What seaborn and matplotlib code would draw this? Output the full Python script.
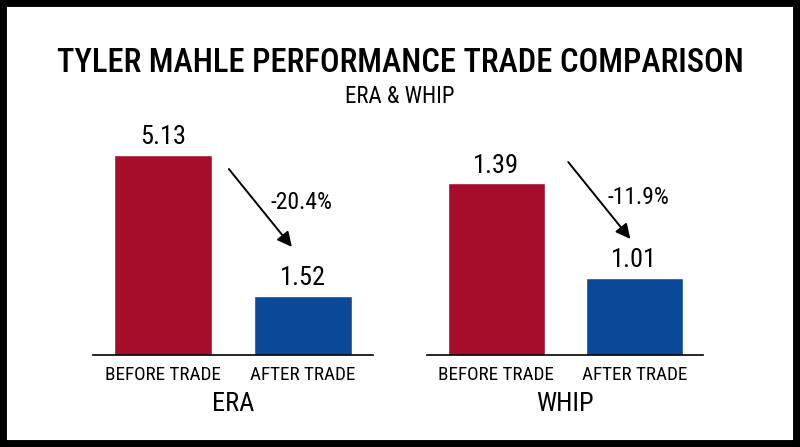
import pandas as pd
import matplotlib.pyplot as plt
import seaborn as sns
from matplotlib import font_manager
from matplotlib.patches import Rectangle

# Chart data
periods = ['BEFORE TRADE', 'AFTER TRADE']
era_values = [5.13, 1.52]
whip_values = [1.39, 1.01]
era_change = '-20.4%'
whip_change = '-11.9%'
bar_colors = ['#A50D2A', '#0A4898']

# Pick a condensed sans family if one is installed
available = {f.name for f in font_manager.fontManager.ttflist}
condensed = None
for name in ['Roboto Condensed', 'Archivo Narrow', 'PT Sans Narrow', 'Liberation Sans Narrow',
             'IBM Plex Sans Condensed', 'Open Sans Condensed', 'Encode Sans Condensed',
             'Fira Sans Condensed', 'Barlow Semi Condensed', 'Open Sans']:
    if name in available:
        condensed = name
        break

sns.set_theme(style='white')
plt.rcParams['font.family'] = [condensed, 'DejaVu Sans'] if condensed else ['DejaVu Sans']
plt.rcParams['font.stretch'] = 'condensed'

fig = plt.figure(figsize=(8, 4.47), dpi=100)
fig.patch.set_facecolor('white')

# Black frame around the picture
fig.patches.append(Rectangle((0, 0), 1, 1, transform=fig.transFigure,
                             fill=False, edgecolor='black', linewidth=10))

fig.text(0.5, 0.860, 'TYLER MAHLE PERFORMANCE TRADE COMPARISON',
         ha='center', va='center', fontsize=23.5, fontweight=500, color='black')
fig.text(0.5, 0.785, 'ERA & WHIP', ha='center', va='center',
         fontsize=16.5, color='black')

panels = [
    ('ERA', era_values, era_change, [0.116, 0.206, 0.35, 0.523], (0, 6.0),
     (0.486, 0.795), (0.711, 0.462), (0.746, 0.65)),
    ('WHIP', whip_values, whip_change, [0.534, 0.206, 0.345, 0.523], (0.7, 1.64),
     (0.511, 0.825), (0.736, 0.496), (0.764, 0.675)),
]

for name, values, change, rect, ylim, tail, tip, lab in panels:
    ax = fig.add_axes(rect)
    df = pd.DataFrame({'period': periods, 'value': values})
    sns.barplot(data=df, x='period', y='value', hue='period',
                palette=bar_colors, width=0.7, legend=False, ax=ax,
                saturation=1)
    ax.set_ylim(*ylim)
    ax.set_xlim(-0.5, 1.5)
    for i, v in enumerate(values):
        ax.annotate(f'{v:.2f}', (i, v), xytext=(0, 4), textcoords='offset points',
                    ha='center', va='bottom', fontsize=19, color='black')
    ax.annotate('', xy=tip, xytext=tail, xycoords='axes fraction',
                textcoords='axes fraction',
                arrowprops=dict(arrowstyle='-|>', color='black', lw=1.4,
                                mutation_scale=22, shrinkA=0, shrinkB=0))
    ax.text(lab[0], lab[1], change, transform=ax.transAxes, ha='center',
            va='center', fontsize=17, color='black')
    for s in ['top', 'right', 'left']:
        ax.spines[s].set_visible(False)
    ax.spines['bottom'].set_color('black')
    ax.spines['bottom'].set_linewidth(1.2)
    ax.set_yticks([])
    ax.set_ylabel('')
    ax.set_xlabel(name, fontsize=19, color='black', labelpad=6)
    ax.tick_params(axis='x', length=0, pad=8, labelsize=13.8, labelcolor='black')
    ax.set_facecolor('none')

fig.savefig('out.png', dpi=100)
